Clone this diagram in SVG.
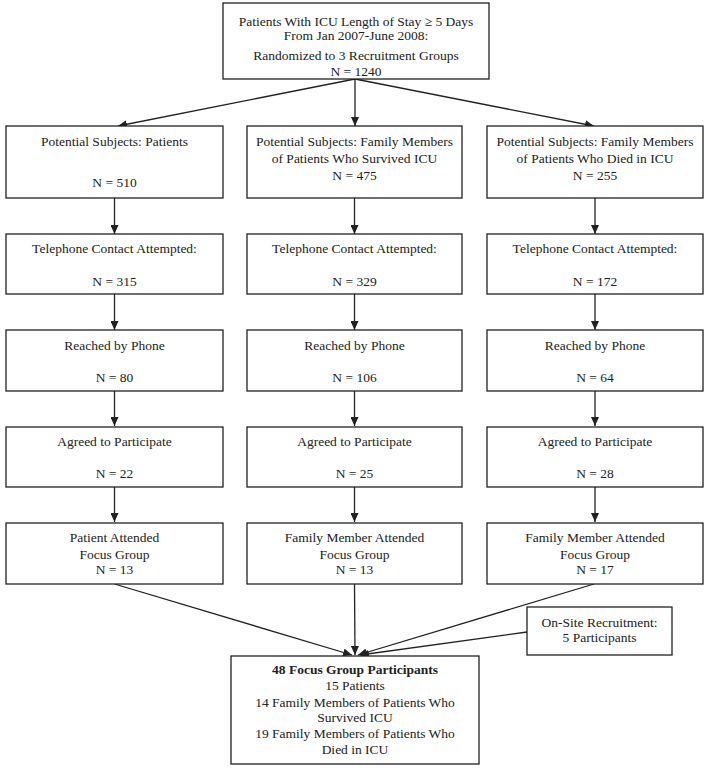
<svg xmlns="http://www.w3.org/2000/svg" width="710" height="771" viewBox="0 0 710 771">
<style>
.box{fill:#fff;stroke:#222;stroke-width:1.3}
text{font-family:"Liberation Serif","Times New Roman",serif;font-size:13.5px;fill:#222;text-anchor:middle}
.b{font-weight:bold}
.c{stroke:#222;stroke-width:1.3;fill:none;marker-end:url(#ah)}
</style>
<defs>
<marker id="ah" markerWidth="10" markerHeight="8" refX="9" refY="4" orient="auto" markerUnits="userSpaceOnUse">
<path d="M0,0 L9,4 L0,8 Z" fill="#222"/>
</marker>
</defs>
<rect width="710" height="771" fill="#fff"/>
<g id="connectors">
<path class="c" d="M355,79 L118,126"/>
<path class="c" d="M355,79 L355,126"/>
<path class="c" d="M355,79 L594,126"/>
<path class="c" d="M114.5,198 L114.5,234"/>
<path class="c" d="M354.5,198 L354.5,234"/>
<path class="c" d="M595,198 L595,234"/>
<path class="c" d="M114.5,294 L114.5,330"/>
<path class="c" d="M354.5,294 L354.5,330"/>
<path class="c" d="M595,294 L595,330"/>
<path class="c" d="M114.5,391 L114.5,426"/>
<path class="c" d="M354.5,391 L354.5,426"/>
<path class="c" d="M595,391 L595,426"/>
<path class="c" d="M114.5,487 L114.5,522"/>
<path class="c" d="M354.5,487 L354.5,522"/>
<path class="c" d="M595,487 L595,522"/>
<path class="c" d="M114.5,584 L352,655"/>
<path class="c" d="M354.5,584 L355,655"/>
<path class="c" d="M594,584 L358,655"/>
<path class="c" d="M527,632 L360,655"/>
</g>
<g id="top">
<rect class="box" x="223" y="3" width="266" height="76"/>
<text x="356" y="26">Patients With ICU Length of Stay ≥ 5 Days</text>
<text x="356" y="40">From Jan 2007-June 2008:</text>
<text x="356" y="60">Randomized to 3 Recruitment Groups</text>
<text x="356" y="76">N = 1240</text>
</g>
<g id="p1">
<rect class="box" x="6" y="126" width="217" height="72"/>
<text x="114.5" y="146">Potential Subjects: Patients</text>
<text x="114.5" y="187">N = 510</text>
</g>
<g id="f1">
<rect class="box" x="247" y="126" width="215" height="72"/>
<text x="354.5" y="146">Potential Subjects: Family Members</text>
<text x="354.5" y="163">of Patients Who Survived ICU</text>
<text x="354.5" y="180">N = 475</text>
</g>
<g id="d1">
<rect class="box" x="487" y="126" width="216" height="72"/>
<text x="595" y="146">Potential Subjects: Family Members</text>
<text x="595" y="163">of Patients Who Died in ICU</text>
<text x="595" y="180">N = 255</text>
</g>
<g id="p2">
<rect class="box" x="6" y="234" width="217" height="60"/>
<text x="114.5" y="253">Telephone Contact Attempted:</text>
<text x="114.5" y="286">N = 315</text>
</g>
<g id="f2">
<rect class="box" x="247" y="234" width="215" height="60"/>
<text x="354.5" y="253">Telephone Contact Attempted:</text>
<text x="354.5" y="286">N = 329</text>
</g>
<g id="d2">
<rect class="box" x="487" y="234" width="216" height="60"/>
<text x="595" y="253">Telephone Contact Attempted:</text>
<text x="595" y="286">N = 172</text>
</g>
<g id="p3">
<rect class="box" x="6" y="330" width="217" height="61"/>
<text x="114.5" y="350">Reached by Phone</text>
<text x="114.5" y="382">N = 80</text>
</g>
<g id="f3">
<rect class="box" x="247" y="330" width="215" height="61"/>
<text x="354.5" y="350">Reached by Phone</text>
<text x="354.5" y="382">N = 106</text>
</g>
<g id="d3">
<rect class="box" x="487" y="330" width="216" height="61"/>
<text x="595" y="350">Reached by Phone</text>
<text x="595" y="382">N = 64</text>
</g>
<g id="p4">
<rect class="box" x="6" y="427" width="217" height="60"/>
<text x="114.5" y="446">Agreed to Participate</text>
<text x="114.5" y="478">N = 22</text>
</g>
<g id="f4">
<rect class="box" x="247" y="427" width="215" height="60"/>
<text x="354.5" y="446">Agreed to Participate</text>
<text x="354.5" y="478">N = 25</text>
</g>
<g id="d4">
<rect class="box" x="487" y="427" width="216" height="60"/>
<text x="595" y="446">Agreed to Participate</text>
<text x="595" y="478">N = 28</text>
</g>
<g id="p5">
<rect class="box" x="6" y="523" width="217" height="61"/>
<text x="114.5" y="542">Patient Attended</text>
<text x="114.5" y="559">Focus Group</text>
<text x="114.5" y="574">N = 13</text>
</g>
<g id="f5">
<rect class="box" x="247" y="523" width="215" height="61"/>
<text x="354.5" y="542">Family Member Attended</text>
<text x="354.5" y="559">Focus Group</text>
<text x="354.5" y="574">N = 13</text>
</g>
<g id="d5">
<rect class="box" x="487" y="523" width="216" height="61"/>
<text x="595" y="542">Family Member Attended</text>
<text x="595" y="559">Focus Group</text>
<text x="595" y="574">N = 17</text>
</g>
<g id="onsite">
<rect class="box" x="527" y="607" width="145" height="48"/>
<text x="599.5" y="627">On-Site Recruitment:</text>
<text x="599.5" y="642">5 Participants</text>
</g>
<g id="final">
<rect class="box" x="231" y="656" width="248" height="108"/>
<text class="b" x="355" y="674">48 Focus Group Participants</text>
<text x="355" y="690">15 Patients</text>
<text x="355" y="707">14 Family Members of Patients Who</text>
<text x="355" y="722">Survived ICU</text>
<text x="355" y="738">19 Family Members of Patients Who</text>
<text x="355" y="754">Died in ICU</text>
</g>
</svg>
